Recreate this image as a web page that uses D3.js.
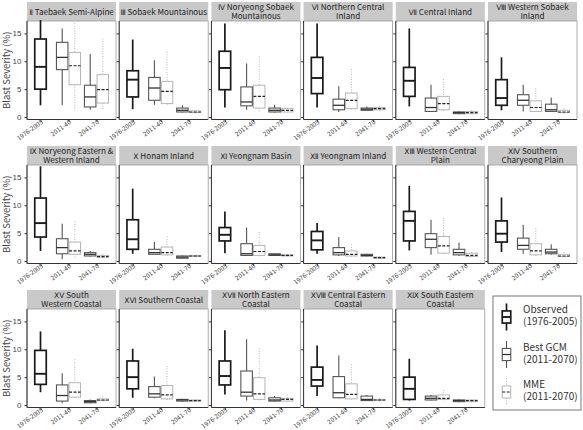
<!DOCTYPE html>
<html>
<head>
<meta charset="utf-8">
<script src="https://cdn.jsdelivr.net/npm/d3@7"></script>
<style>
  body { margin: 0; background: #fff; }
  svg { font-family: "Noto Sans CJK KR", "Noto Sans", sans-serif; }
  .narrow { font-family: "Liberation Sans Narrow", "DejaVu Sans Condensed", "Noto Sans CJK KR", sans-serif; }
</style>
</head>
<body>
<svg id="chart" width="583" height="430"></svg>
<script>
// region names (facet strips): numeral, then name ("\n" = line break)
const numerals = ["Ⅱ", "Ⅲ", "Ⅳ", "Ⅵ", "Ⅶ", "Ⅷ", "Ⅸ", "Ⅹ", "Ⅺ", "Ⅻ",
    "ⅩⅢ", "ⅩⅣ", "ⅩⅤ", "ⅩⅥ", "ⅩⅦ", "ⅩⅧ", "ⅩⅨ"];
const regions = [
    "Taebaek Semi-Alpine", "Sobaek Mountainous", "Noryeong Sobaek\nMountainous",
    "Northern Central\nInland", "Central Inland", "Western Sobaek\nInland",
    "Noryeong Eastern &\nWestern Inland", "Honam Inland", "Yeongnam Basin",
    "Yeongnam Inland", "Western Central\nPlain", "Southern\nCharyeong Plain",
    "South\nWestern Coastal", "Southern Coastal", "North Eastern\nCoastal",
    "Central Eastern\nCoastal", "South Eastern\nCoastal"
];
const periods = ["1976-2005", "2011-40", "2041-70"];
const yTicks = [0, 5, 10, 15];

// five-number summaries [min, q1, median, q3, max] per region
const observed = [
    [2.1, 5.0, 9.0, 14.0, 17.4], [1.4, 3.6, 6.7, 8.3, 13.9], [1.7, 4.9, 8.8, 11.8, 16.8],
    [1.7, 4.2, 7.0, 10.7, 16.8], [1.9, 3.7, 6.5, 8.9, 15.9], [1.2, 2.1, 3.4, 6.7, 10.7],
    [1.8, 4.3, 6.8, 11.3, 17.0], [1.3, 2.1, 3.9, 7.4, 13.0], [1.4, 3.6, 4.7, 6.0, 8.9],
    [1.3, 2.0, 3.7, 5.3, 6.8], [1.9, 3.6, 7.2, 8.9, 13.5], [1.6, 3.4, 4.9, 7.2, 11.4],
    [2.3, 3.7, 5.6, 9.8, 13.2], [1.3, 2.9, 5.0, 7.9, 10.1], [1.9, 3.6, 5.2, 7.9, 13.4],
    [1.6, 3.4, 4.5, 6.8, 10.7], [0.8, 1.0, 2.9, 5.0, 8.3]
];
const gcm2011 = [
    [2.1, 8.5, 10.7, 13.4, 15.9], [2.2, 3.0, 5.2, 7.1, 10.2], [1.3, 2.0, 2.7, 5.4, 9.6],
    [0.9, 1.3, 2.1, 3.2, 5.5], [0.9, 1.0, 1.7, 3.4, 5.8], [1.0, 2.1, 3.0, 4.0, 5.8],
    [0.3, 1.3, 2.4, 4.0, 6.7], [1.1, 1.2, 1.5, 2.1, 3.4], [0.9, 1.0, 1.3, 3.1, 6.0],
    [0.9, 1.1, 1.5, 2.4, 4.3], [1.1, 2.4, 3.9, 4.9, 7.4], [1.3, 2.1, 2.8, 4.1, 6.5],
    [0.3, 0.7, 1.7, 3.6, 5.7], [1.2, 1.4, 2.0, 3.3, 5.1], [0.8, 1.6, 2.3, 6.1, 11.8],
    [1.2, 1.3, 2.2, 5.1, 8.9], [0.8, 0.9, 1.2, 1.6, 1.8]
];
const mme2011 = [
    [1.2, 5.8, 9.2, 11.6, 17.3], [2.2, 2.4, 4.6, 6.4, 11.7], [0.9, 1.6, 3.7, 5.7, 10.9],
    [1.2, 1.5, 3.0, 4.3, 8.6], [1.0, 1.3, 2.4, 3.7, 6.8], [0.9, 1.0, 1.7, 2.9, 5.2],
    [0.6, 1.2, 1.8, 3.4, 7.1], [0.9, 1.1, 1.5, 2.5, 4.4], [0.8, 1.0, 1.7, 2.8, 5.2],
    [0.8, 0.9, 1.2, 1.8, 3.0], [1.2, 1.4, 2.7, 4.4, 7.8], [0.9, 1.1, 1.8, 3.1, 5.9],
    [1.0, 1.4, 2.3, 4.0, 8.2], [0.8, 1.1, 1.8, 3.5, 7.0], [0.8, 1.0, 2.0, 4.9, 10.2],
    [1.0, 1.1, 1.9, 3.8, 7.3], [0.8, 1.0, 1.2, 1.8, 2.7]
];
const gcm2041 = [
    [1.3, 1.8, 3.6, 5.7, 11.3], [0.8, 0.9, 1.2, 1.6, 2.1], [0.8, 0.9, 1.2, 1.6, 2.2],
    [1.1, 1.2, 1.4, 1.6, 1.9], [0.5, 0.6, 0.8, 0.9, 1.0], [0.9, 1.0, 1.3, 2.3, 3.5],
    [0.8, 0.9, 1.2, 1.5, 1.8], [0.4, 0.5, 0.7, 0.9, 1.0], [0.9, 1.0, 1.1, 1.3, 1.4],
    [0.8, 0.9, 1.0, 1.2, 1.3], [0.9, 1.1, 1.5, 2.1, 3.3], [1.1, 1.3, 1.6, 2.1, 3.0],
    [0.3, 0.4, 0.6, 0.8, 1.0], [0.6, 0.7, 0.9, 1.0, 1.1], [0.6, 0.7, 0.9, 1.3, 1.6],
    [0.7, 0.8, 1.0, 1.6, 1.8], [0.5, 0.6, 0.8, 0.9, 1.0]
];
const mme2041 = [
    [1.2, 2.5, 4.9, 7.6, 14.1], [0.6, 0.8, 0.9, 1.1, 1.3], [0.8, 0.9, 1.2, 1.5, 1.7],
    [1.1, 1.3, 1.5, 1.7, 2.0], [0.5, 0.6, 0.8, 1.0, 1.2], [0.6, 0.8, 0.9, 1.2, 1.5],
    [0.6, 0.7, 0.8, 1.0, 1.2], [0.7, 0.8, 0.9, 1.0, 1.1], [0.8, 0.9, 1.0, 1.1, 1.2],
    [0.4, 0.5, 0.6, 0.7, 0.8], [0.7, 0.8, 1.0, 1.4, 1.6], [0.7, 0.8, 0.9, 1.2, 1.6],
    [0.6, 0.8, 0.9, 1.1, 1.5], [0.6, 0.7, 0.8, 0.9, 1.0], [0.6, 0.7, 1.0, 1.2, 1.9],
    [0.6, 0.8, 0.9, 1.0, 1.2], [0.5, 0.6, 0.8, 0.9, 1.0]
];

const legendItems = [
    ["Observed", "(1976-2005)"],
    ["Best GCM", "(2011-2070)"],
    ["MME", "(2011-2070)"]
];

// box styles: observed / best GCM / MME
const styles = {
    obs: { stroke: "#1a1a1a", width: 1.7, whiskerDash: null, median: "#1a1a1a", medianDash: null },
    gcm: { stroke: "#555", width: 1.1, whiskerDash: null, median: "#333", medianDash: null },
    mme: { stroke: "#b5b5b5", width: 1, whiskerDash: "1,1.5", median: "#222", medianDash: "3,1.5" }
};

const svg = d3.select("#chart");

const ncol = 6;
const panelX0 = 27, panelStepX = 92.2, panelW = 89;
const rowY0 = 2, rowStep = 144, stripH = 19, plotH = 98.5;
const boxW = 11.5, dodge = 6.3;

const x = d3.scalePoint().domain(periods).range([13.5, 69.5]);

// draws one box-and-whisker glyph; s = [min, q1, median, q3, max]
function drawBox(g, y, xc, s, st, w) {
    g.append("line")
        .attr("x1", xc).attr("x2", xc)
        .attr("y1", y(s[4])).attr("y2", y(s[3]))
        .attr("stroke", st.stroke).attr("stroke-width", st.width)
        .attr("stroke-dasharray", st.whiskerDash);
    g.append("line")
        .attr("x1", xc).attr("x2", xc)
        .attr("y1", y(s[1])).attr("y2", y(s[0]))
        .attr("stroke", st.stroke).attr("stroke-width", st.width)
        .attr("stroke-dasharray", st.whiskerDash);
    g.append("rect")
        .attr("x", xc - w / 2).attr("width", w)
        .attr("y", y(s[3])).attr("height", Math.max(0.5, y(s[1]) - y(s[3])))
        .attr("fill", "#fff")
        .attr("stroke", st.stroke).attr("stroke-width", st.width);
    g.append("line")
        .attr("x1", xc - w / 2).attr("x2", xc + w / 2)
        .attr("y1", y(s[2])).attr("y2", y(s[2]))
        .attr("stroke", st.median).attr("stroke-width", st.width + 0.2)
        .attr("stroke-dasharray", st.medianDash);
}

regions.forEach((name, i) => {
    let col = i % ncol, row = Math.floor(i / ncol);
    let px = panelX0 + col * panelStepX;
    let top = rowY0 + row * rowStep;
    let plotTop = top + stripH, plotBottom = plotTop + plotH;

    let y = d3.scaleLinear().domain([-0.45, 17.23]).range([plotBottom, plotTop]);

    let panel = svg.append("g").attr("transform", "translate(" + px + ",0)");

    // strip
    panel.append("rect")
        .attr("x", 0).attr("y", top).attr("width", panelW).attr("height", stripH)
        .attr("fill", "#c9c9c9");
    let lines = name.split("\n");
    let strip = panel.append("text")
        .attr("text-anchor", "middle")
        .attr("font-size", 8.1)
        .attr("fill", "#222");
    lines.forEach((t, k) => {
        let ts = strip.append("tspan")
            .attr("x", panelW / 2)
            .attr("y", lines.length == 1 ? top + 12.5 : top + 8 + k * 8.7);
        if (k == 0) {
            ts.append("tspan").attr("font-family", "DejaVu Sans").attr("font-size", 7.6)
                .text(numerals[i]);
            ts.append("tspan").text(" " + t);
        } else {
            ts.text(t);
        }
    });

    // panel frame
    panel.append("rect")
        .attr("x", 0).attr("y", plotTop).attr("width", panelW).attr("height", plotH)
        .attr("fill", "none").attr("stroke", "#9a9a9a").attr("stroke-width", 0.8);

    // y axis
    let yAxis = d3.axisLeft(y).tickValues(yTicks).tickSize(2.5)
        .tickFormat(col == 0 ? d3.format("d") : "");
    let ya = panel.append("g").call(yAxis);
    ya.select(".domain").attr("stroke", "#333").attr("d", "M0," + plotTop + "V" + plotBottom);
    ya.selectAll(".tick line").attr("stroke", "#333");
    ya.selectAll("text").attr("font-size", 8).attr("fill", "#444").attr("font-family", "inherit");

    // x axis
    let xAxis = d3.axisBottom(x).tickSize(2.5).tickSizeOuter(0);
    let xa = panel.append("g").attr("transform", "translate(0," + plotBottom + ")").call(xAxis);
    xa.select(".domain").attr("stroke", "#333").attr("d", "M0,0H" + panelW);
    xa.selectAll(".tick line").attr("stroke", "#333");
    xa.selectAll("text")
        .attr("class", "narrow")
        .attr("font-family", null)
        .attr("font-size", 6.2).attr("fill", "#444")
        .attr("text-anchor", "end")
        .attr("dy", null).attr("y", 0)
        .attr("transform", "translate(2.5,3.5) rotate(-36)");

    // boxes
    drawBox(panel, y, x(periods[0]), observed[i], styles.obs, boxW);
    drawBox(panel, y, x(periods[1]) - dodge, gcm2011[i], styles.gcm, boxW);
    drawBox(panel, y, x(periods[1]) + dodge, mme2011[i], styles.mme, boxW);
    drawBox(panel, y, x(periods[2]) - dodge, gcm2041[i], styles.gcm, boxW);
    drawBox(panel, y, x(periods[2]) + dodge, mme2041[i], styles.mme, boxW);
});

// y axis titles
for (let r = 0; r < 3; r++) {
    let mid = rowY0 + r * rowStep + stripH + plotH / 2;
    svg.append("text")
        .attr("transform", "translate(10," + mid + ") rotate(-90)")
        .attr("text-anchor", "middle")
        .attr("font-size", 9.5)
        .attr("fill", "#444")
        .text("Blast Severity (%)");
}

// legend
let legend = svg.append("g").attr("transform", "translate(493,296)");
legend.append("rect")
    .attr("width", 88).attr("height", 114)
    .attr("fill", "#fff").attr("stroke", "#555").attr("stroke-width", 0.8);

let legendStyles = [styles.obs, styles.gcm, styles.mme];
// glyph scale in pixels around each key's centre
let ky = d3.scaleLinear().domain([-1, 1]).range([13.5, -13.5]);
legendItems.forEach((item, k) => {
    let cy = 21 + k * 37.5;
    let g = legend.append("g").attr("transform", "translate(0," + cy + ")");
    drawBox(g, ky, 13.5, [-1, -0.45, 0, 0.45, 1], legendStyles[k], 8.5);
    g.append("text").attr("x", 30).attr("y", -4).attr("font-size", 10).attr("fill", "#333").text(item[0]);
    g.append("text").attr("x", 30).attr("y", 8).attr("font-size", 10).attr("fill", "#333").text(item[1]);
});
</script>
</body>
</html>
